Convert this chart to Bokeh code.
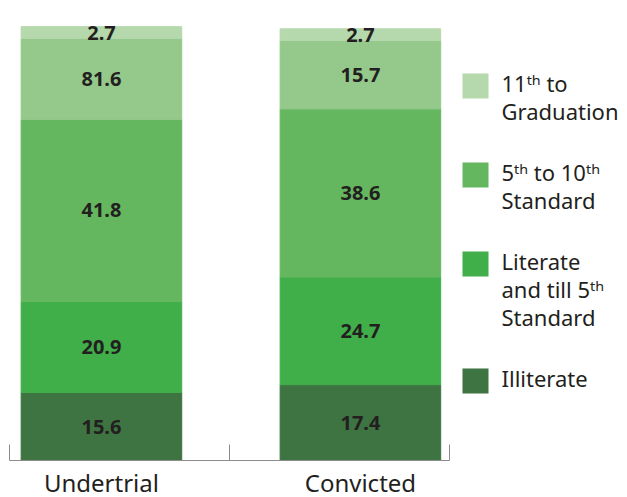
from bokeh.plotting import figure
from bokeh.models import Range1d, FixedTicker, LinearAxis, ColumnDataSource
from bokeh.layouts import row
from bokeh.embed import file_html
from bokeh.resources import INLINE
from bokeh.core.properties import value

# ---------------- data ----------------
categories = ["Undertrial", "Convicted"]
series = ["Illiterate", "Literate and till 5th Standard", "5th to 10th Standard",
          "Unlabelled", "11th to Graduation"]
undertrial = [15.6, 20.9, 41.8, 18.6, 2.7]
convicted = [17.4, 24.7, 38.6, 15.7, 2.7]
undertrial_labels = ["15.6", "20.9", "41.8", "81.6", "2.7"]
convicted_labels = ["17.4", "24.7", "38.6", "15.7", "2.7"]
colors = ["#3e7342", "#40ae49", "#64b75e", "#94c98b", "#b5d8ac"]

legend_lines = [["11ᵗʰ to", "Graduation"],
                ["5ᵗʰ to 10ᵗʰ", "Standard"],
                ["Literate", "and till 5ᵗʰ", "Standard"],
                ["Illiterate"]]
legend_colors = ["#b5d8ac", "#64b75e", "#40ae49", "#3e7342"]

FONT = "Noto Sans"
TEXT_COLOR = "#231f20"
AXIS_COLOR = "#8c8c8c"
FRAME_H = 460

# ---------------- main chart ----------------
x_lo, x_hi = -0.355, 1.344
xs = list(range(len(categories)))
p = figure(frame_width=440, frame_height=FRAME_H,
           x_range=Range1d(x_lo, x_hi), y_range=Range1d(0, 105.6),
           output_backend="svg", toolbar_location=None,
           x_axis_location=None, y_axis_location=None,
           min_border_left=9, min_border_right=6, min_border_top=0, min_border_bottom=0)
p.outline_line_color = None
p.xgrid.visible = False
p.ygrid.visible = False
p.background_fill_color = "white"
p.border_fill_color = "white"

keys = [f"s{i}" for i in range(len(series))]
data = {"x": xs}
for i, k in enumerate(keys):
    data[k] = [undertrial[i], convicted[i]]
src = ColumnDataSource(data)
p.vbar_stack(keys, x="x", width=0.62, color=colors, source=src)

lx, ly, lt = [], [], []
for xi, vals, labs in zip(xs, [undertrial, convicted], [undertrial_labels, convicted_labels]):
    base = 0.0
    for v, lab in zip(vals, labs):
        lx.append(xi)
        ly.append(base + v / 2)
        lt.append(lab)
        base += v
p.text(x=lx, y=ly, text=lt, text_align="center", text_baseline="middle",
       text_font=value(FONT), text_font_style="bold", text_font_size="20px",
       text_color=TEXT_COLOR)

ax = LinearAxis(ticker=FixedTicker(ticks=xs, minor_ticks=[x_lo, (x_lo + x_hi) / 2, x_hi]))
ax.major_label_overrides = {i: c for i, c in enumerate(categories)}
ax.major_tick_line_color = None
ax.major_tick_out = 0
ax.major_tick_in = 0
ax.minor_tick_in = 16
ax.minor_tick_out = 0
ax.minor_tick_line_color = AXIS_COLOR
ax.axis_line_color = AXIS_COLOR
ax.major_label_text_font = FONT
ax.major_label_text_font_size = "24px"
ax.major_label_text_color = TEXT_COLOR
ax.major_label_standoff = 5
p.add_layout(ax, "below")

# ---------------- legend panel ----------------
LW = 172
q = figure(frame_width=LW, frame_height=FRAME_H,
           x_range=Range1d(0, LW), y_range=Range1d(FRAME_H, 0),
           output_backend="svg", toolbar_location=None,
           x_axis_location=None, y_axis_location=None,
           min_border=0)
q.outline_line_color = None
q.xgrid.visible = False
q.ygrid.visible = False

line_h = 28
gap = 33
y = 85.5
sq_x, sq_y, tx, ty, tt = [], [], [], [], []
for lines in legend_lines:
    sq_x.append(20)
    sq_y.append(y)
    for j, t in enumerate(lines):
        tx.append(46)
        ty.append(y + j * line_h)
        tt.append(t)
    y += len(lines) * line_h + gap
q.rect(x=sq_x, y=sq_y, width=26, height=25, fill_color=legend_colors, line_color=None)
q.text(x=tx, y=ty, text=tt, text_align="left", text_baseline="middle", y_offset=-3,
       text_font=value(FONT), text_font_size="22px", text_color=TEXT_COLOR)

layout = row(p, q)
open("out.html", "w").write(file_html(layout, INLINE))
